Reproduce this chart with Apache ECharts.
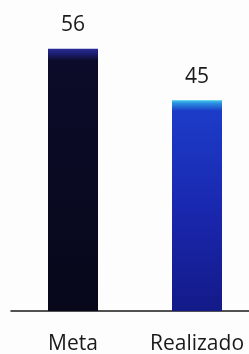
<!DOCTYPE html>
<html><head><meta charset="utf-8">
<script src="https://cdn.jsdelivr.net/npm/echarts@6/dist/echarts.min.js"></script>
<style>html,body{margin:0;padding:0;background:#fdfdfd;}#c{width:249px;height:354px;}</style>
</head><body><div id="c"></div>
<script>
const categories = ['Meta', 'Realizado'];
const values = [56, 45];

const chart = echarts.init(document.getElementById('c'), null, {renderer: 'canvas'});
const grad = (stops) => new echarts.graphic.LinearGradient(0, 0, 0, 1, stops);
const colors = [
  grad([{offset: 0, color: '#2a2c9a'}, {offset: 0.02, color: '#1c1d6e'}, {offset: 0.045, color: '#0c0c2a'}, {offset: 1, color: '#07071a'}]),
  grad([{offset: 0, color: '#40c8ea'}, {offset: 0.015, color: '#2a8ee0'}, {offset: 0.05, color: '#1c3cc8'}, {offset: 0.5, color: '#1a28b0'}, {offset: 1, color: '#131a88'}])
];
chart.setOption({
  animation: false,
  backgroundColor: '#fdfdfd',
  grid: {left: 11, width: 248, top: 30, bottom: 43, outerBoundsMode: 'none', containLabel: false},
  xAxis: {
    type: 'category', data: categories,
    axisLine: {lineStyle: {color: '#1a1a1a', width: 1.5}},
    axisTick: {show: false},
    axisLabel: {color: '#1a1a1a', fontSize: 21, fontFamily: 'Open Sans, sans-serif', margin: 23}
  },
  yAxis: {type: 'value', min: 0, max: 60, show: false, splitLine: {show: false}},
  series: [{
    type: 'bar', barWidth: 50,
    data: values.map((v, i) => ({value: v, itemStyle: {color: colors[i]}})),
    label: {show: true, position: 'top', distance: 13, color: '#1a1a1a', fontSize: 21, fontFamily: 'Open Sans, sans-serif'}
  }]
});
</script></body></html>
